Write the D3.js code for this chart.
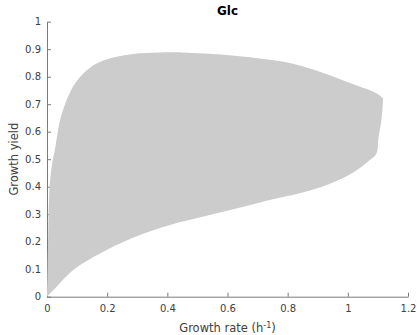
<!DOCTYPE html>
<html>
<head>
<meta charset="utf-8">
<script src="https://cdn.jsdelivr.net/npm/d3@7"></script>
<style>
  body { margin: 0; background: #fff; }
  text { font-family: "DejaVu Sans", sans-serif; }
</style>
</head>
<body>
<div id="chart"></div>
<script>
// outline of the feasible region
// top side: going up the left edge and across the top
const topX = [0, 0.002, 0.004, 0.006, 0.010, 0.018, 0.027, 0.043, 0.060, 0.087, 0.121, 0.165, 0.220, 0.287, 0.375, 0.450, 0.597, 0.700, 0.807, 0.885, 0.996, 1.095, 1.117]
const topY = [0, 0.10, 0.22, 0.33, 0.42, 0.49, 0.54, 0.64, 0.70, 0.765, 0.812, 0.848, 0.870, 0.883, 0.888, 0.888, 0.879, 0.867, 0.850, 0.826, 0.782, 0.740, 0.721]
// bottom side: down the right edge and back to the origin
const bottomX = [1.117, 1.115, 1.110, 1.102, 1.095, 1.073, 1.018, 0.950, 0.874, 0.708, 0.541, 0.409, 0.309, 0.198, 0.087, 0.032, 0]
const bottomY = [0.721, 0.68, 0.63, 0.58, 0.52, 0.497, 0.452, 0.415, 0.386, 0.343, 0.297, 0.261, 0.224, 0.170, 0.097, 0.036, 0]

const xTicks = [0, 0.2, 0.4, 0.6, 0.8, 1, 1.2]
const yTicks = [0, 0.1, 0.2, 0.3, 0.4, 0.5, 0.6, 0.7, 0.8, 0.9, 1]

const W = 417, H = 335
const margin = {left: 47, right: 9, top: 21.7, bottom: 38.3}

const svg = d3.select('#chart').append('svg')
  .attr('width', W)
  .attr('height', H)

const x = d3.scaleLinear().domain([0, 1.2]).range([margin.left, W - margin.right])
const y = d3.scaleLinear().domain([0, 1]).range([H - margin.bottom, margin.top])

// axes first, the cloud sits on top like in the original
const axisColor = '#7a7a7a'
const textColor = '#404040'

const gx = svg.append('g')
  .attr('transform', `translate(0,${y(0)})`)
  .call(d3.axisBottom(x).tickValues(xTicks).tickFormat(d3.format('~g'))
    .tickSizeInner(-4).tickSizeOuter(0).tickPadding(8))

const gy = svg.append('g')
  .attr('transform', `translate(${x(0)},0)`)
  .call(d3.axisLeft(y).tickValues(yTicks).tickFormat(d3.format('~g'))
    .tickSizeInner(-4).tickSizeOuter(0).tickPadding(6))

for (const g of [gx, gy]) {
  g.selectAll('path, line').attr('stroke', axisColor)
  g.selectAll('text')
    .attr('fill', textColor)
    .style('font-size', '10px')
    .style('font-family', '"DejaVu Sans", sans-serif')
}

// two smooth sides joined at the sharp corners (origin and right tip)
const side = d3.line()
  .x(d => x(d[0]))
  .y(d => y(d[1]))
  .curve(d3.curveCatmullRom.alpha(0.5))

const topPts = topX.map((v, i) => [v, topY[i]])
const bottomPts = bottomX.map((v, i) => [v, bottomY[i]])

svg.append('path')
  .attr('d', side(topPts) + 'L' + side(bottomPts).slice(1) + 'Z')
  .attr('fill', '#cccccc')
  .attr('stroke', 'none')

// title
svg.append('text')
  .attr('x', (x(0) + x(1.2)) / 2)
  .attr('y', 15)
  .attr('text-anchor', 'middle')
  .style('font-size', '12px')
  .style('font-weight', 'bold')
  .attr('fill', '#000')
  .text('Glc')

// x label with superscript
const xl = svg.append('text')
  .attr('x', (x(0) + x(1.2)) / 2)
  .attr('y', 332)
  .attr('text-anchor', 'middle')
  .attr('fill', textColor)
  .style('font-size', '11.5px')
xl.append('tspan').text('Growth rate (h')
xl.append('tspan').attr('dy', -4).style('font-size', '8px').text('-1')
xl.append('tspan').attr('dy', 4).text(')')

// y label
svg.append('text')
  .attr('transform', `translate(18,${(y(0) + y(1)) / 2}) rotate(-90)`)
  .attr('text-anchor', 'middle')
  .attr('fill', textColor)
  .style('font-size', '11.5px')
  .text('Growth yield')
</script>
</body>
</html>
